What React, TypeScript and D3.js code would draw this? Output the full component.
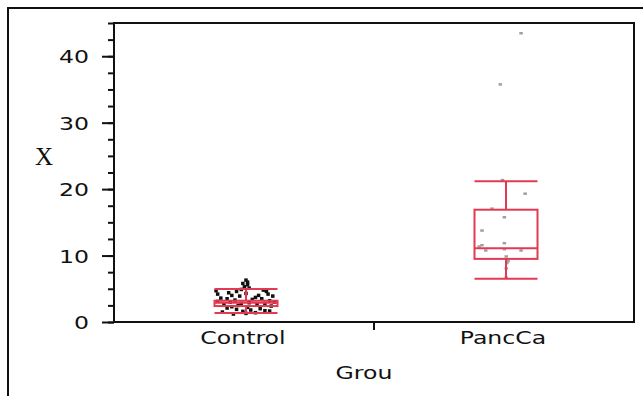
import React, { useEffect, useRef } from 'react'
import * as d3 from 'd3'

const groups = ['Control', 'PancCa']
const yTicks = [0, 10, 20, 30, 40]

// box stats per group: [low whisker, q1, median, q3, high whisker]
const controlBox = [1.35, 2.4, 2.9, 3.2, 4.95]
const panccaBox = [6.5, 9.5, 11.1, 16.9, 21.2]

const controlValues = [
  6.3, 6.0, 5.8, 5.6, 5.3, 5.1, 4.9,
  4.7, 4.2, 4.4, 4.0, 4.6, 3.9, 4.3,
  4.8, 4.6, 4.2, 3.9, 4.0, 3.7,
  3.6, 3.5, 3.3, 3.4, 3.5, 3.2, 3.1, 3.0, 2.9, 2.8, 2.7, 2.6, 2.5, 2.4, 2.3, 2.2, 3.0, 2.8,
  2.1, 2.0, 1.9, 1.8, 1.7, 1.6, 1.5, 1.4, 1.3, 1.2, 1.65,
]
// horizontal jitter, as a share of the box half width
const controlJitter = [
  0.0, 0.05, -0.1, 0.05, -0.05, 0.1, -0.15,
  -0.95, -0.9, -0.55, -0.45, -0.3, -0.2, 0.0,
  0.55, 0.65, 0.7, 0.85, 0.4, 0.3,
  -0.8, -0.6, -0.35, 0.2, 0.5, 0.75, -0.9, -0.5, 0.1, 0.6, -0.7, 0.35, -0.25, 0.8, -0.45, 0.05, 0.9, -0.15,
  -0.6, 0.45, -0.3, 0.15, 0.6, -0.1, -0.75, 0.3, 0.0, -0.4, 0.75,
]

const panccaValues = [43.5, 35.8, 21.4, 19.35, 17.1, 15.8, 13.8, 11.9, 11.6, 11.4, 11.0, 10.8, 10.8, 9.9, 9.2, 8.9, 8.1, 6.7]
const panccaJitter = [0.47, -0.19, -0.12, 0.6, -0.45, -0.06, -0.77, -0.06, -0.77, -0.86, -0.06, -0.65, 0.47, 0.0, 0.06, 0.02, 0.0, 0.0]

function App() {
  const svgRef = useRef(null)

  useEffect(() => {
    const width = 643
    const height = 396
    const left = 114, right = 634, top = 23, bottom = 322
    const red = '#e23a52'
    const sans = 'DejaVu Sans, Verdana, sans-serif'
    const stretch = 1.31

    const svg = d3.select(svgRef.current)
      .attr('width', width)
      .attr('height', height)
    svg.selectAll('*').remove()

    const x = d3.scaleBand().domain(groups).range([left, right])
    const y = d3.scaleLinear().domain([0, 45]).range([bottom, top])
    const halfBox = 31.5

    // outer frame, running past the page edges
    svg.append('rect')
      .attr('x', 8).attr('y', 8)
      .attr('width', 700).attr('height', 450)
      .attr('fill', 'none').attr('stroke', '#111').attr('stroke-width', 2)

    // minor y ticks
    const minor = d3.range(0, 45.01, 2.5)
    svg.append('g')
      .attr('transform', `translate(${left},0)`)
      .call(d3.axisLeft(y).tickValues(minor).tickSize(6).tickFormat(() => ''))
      .call(g => g.select('.domain').remove())
      .call(g => g.selectAll('line').attr('stroke', '#111').attr('stroke-width', 2))

    // major y ticks + labels
    svg.append('g')
      .attr('transform', `translate(${left},0)`)
      .call(d3.axisLeft(y).tickValues(yTicks).tickSize(12).tickPadding(13))
      .call(g => g.select('.domain').remove())
      .call(g => g.selectAll('line').attr('stroke', '#111').attr('stroke-width', 2))
      .call(g => g.selectAll('text')
        .attr('font-family', sans).attr('font-size', 18).attr('fill', '#111').attr('dy', '0.36em'))

    // plot frame
    svg.append('rect')
      .attr('x', left).attr('y', top)
      .attr('width', right - left).attr('height', bottom - top)
      .attr('fill', 'none').attr('stroke', '#111').attr('stroke-width', 2)

    // category divider tick
    svg.append('line')
      .attr('x1', x('PancCa')).attr('x2', x('PancCa'))
      .attr('y1', bottom).attr('y2', bottom + 8)
      .attr('stroke', '#111').attr('stroke-width', 2)

    svg.selectAll('.cat')
      .data(groups)
      .join('text')
      .attr('class', 'cat')
      .attr('x', d => x(d) + x.bandwidth() / 2 - 1)
      .attr('y', 344)
      .attr('text-anchor', 'middle')
      .attr('font-family', sans).attr('font-size', 18).attr('fill', '#111')
      .text(d => d)

    svg.append('text')
      .attr('class', 'cat')
      .attr('x', 364).attr('y', 379)
      .attr('text-anchor', 'middle')
      .attr('font-family', sans).attr('font-size', 18).attr('fill', '#111')
      .text('Grou')

    svg.append('text')
      .attr('x', 44).attr('y', 165)
      .attr('text-anchor', 'middle')
      .attr('font-family', 'Liberation Serif, serif').attr('font-size', 25).attr('fill', '#111')
      .text('X')

    // stretch sans labels to match the wide look of the reference
    svg.selectAll('text').each(function () {
      const node = this
      if (node.getAttribute('font-family') !== sans) return
      const w = node.getComputedTextLength()
      d3.select(node).attr('textLength', w * stretch).attr('lengthAdjust', 'spacingAndGlyphs')
    })

    const cx = g => x(g) + x.bandwidth() / 2 + 2

    // points
    svg.selectAll('.pc')
      .data(controlValues)
      .join('rect')
      .attr('x', (v, i) => cx('Control') + controlJitter[i] * halfBox - 1.75)
      .attr('y', v => y(v) - 1.75)
      .attr('width', 3.5).attr('height', 3.5)
      .attr('fill', '#111')

    svg.selectAll('.pp')
      .data(panccaValues)
      .join('rect')
      .attr('x', (v, i) => cx('PancCa') + panccaJitter[i] * halfBox - 1.5)
      .attr('y', v => y(v) - 1)
      .attr('width', 3.5).attr('height', 2.5)
      .attr('fill', '#a0a0a0')

    // boxes
    const boxes = [['Control', controlBox], ['PancCa', panccaBox]]
    boxes.forEach(([g, s]) => {
      const c = cx(g)
      const [lo, q1, med, q3, hi] = s
      const b = svg.append('g')
        .attr('stroke', red).attr('stroke-width', 2).attr('fill', 'none')
      b.append('line').attr('x1', c).attr('x2', c).attr('y1', y(hi)).attr('y2', y(q3))
      b.append('line').attr('x1', c).attr('x2', c).attr('y1', y(q1)).attr('y2', y(lo))
      b.append('line').attr('x1', c - halfBox).attr('x2', c + halfBox).attr('y1', y(hi)).attr('y2', y(hi))
      b.append('line').attr('x1', c - halfBox).attr('x2', c + halfBox).attr('y1', y(lo)).attr('y2', y(lo))
      b.append('rect')
        .attr('x', c - halfBox).attr('y', y(q3))
        .attr('width', halfBox * 2).attr('height', y(q1) - y(q3))
      b.append('line').attr('x1', c - halfBox).attr('x2', c + halfBox).attr('y1', y(med)).attr('y2', y(med))
    })
  }, [])

  return (
    <div className='App'>
      <svg ref={svgRef} style={{ position: 'absolute', left: 0, top: 0 }}></svg>
    </div>
  )
}

export default App
